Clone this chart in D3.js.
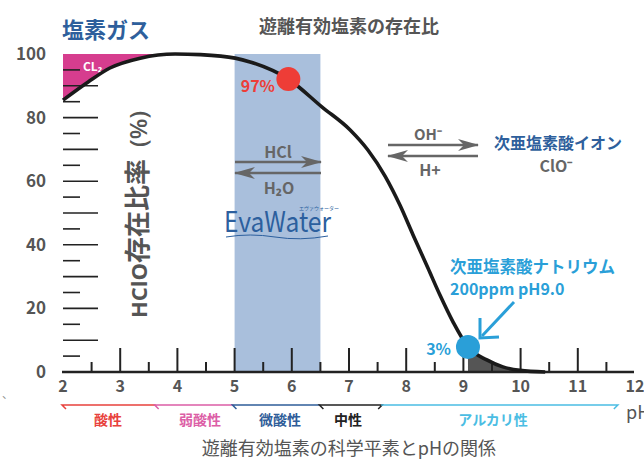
<!DOCTYPE html>
<html><head><meta charset="utf-8">
<script src="https://cdn.jsdelivr.net/npm/d3@7"></script>
<style>
html,body{margin:0;padding:0;background:#fff;}
svg{display:block;}
text{font-family:"Noto Sans CJK JP","Open Sans",sans-serif;}
</style></head>
<body><svg id="c" width="644" height="459"></svg>
<script>
// ---- data ----
const phValues   = [2.0, 2.44, 2.82, 3.35, 3.96, 4.4, 5.01, 5.27, 5.94, 6.53, 7.02, 7.33, 7.63, 7.89, 8.12, 8.38, 8.59, 8.82, 9.08, 9.41, 9.69, 9.99, 10.43];
const hcloValues = [85.5, 91.2, 95.6, 98.7, 100, 99.8, 98.7, 97.5, 92.1, 83.3, 76.1, 69.8, 61.6, 52.5, 43.1, 32.7, 24.2, 15.7, 7.9, 3.8, 1.6, 0.5, 0.0];
const xTicks = [2,3,4,5,6,7,8,9,10,11,12];
const yTickLabels = [0,20,40,60,80,100];
const yGridMajor = [10,20,30,40,50,60,70,80,90];
const yGridMinor = [5,15,25,35,45,55,65,75,85,95];
const bandRange = [5, 6.5];       // 微酸性 band
const cl2Range = [2, 3.96];
const darkRange = [9, 10.43];
const markers = [{ph:5.94, v:92.1, label:"97%", color:"#ee3d37"},{ph:9.08, v:7.9, label:"3%", color:"#2a9fd8"}];
const ranges = [
  {name:"酸性", from:2, to:3.62, color:"#e8413c", lx:108, hookL:true, hookR:false},
  {name:"弱酸性", from:3.62, to:4.98, color:"#dc5ea6", lx:200, hookL:true, hookR:false},
  {name:"微酸性", from:4.98, to:6.5, color:"#2f5d99", lx:280, hookL:true, hookR:false},
  {name:"中性", from:6.5, to:7.58, color:"#222222", lx:348, hookL:true, hookR:true},
  {name:"アルカリ性", from:7.58, to:11.7, color:"#4bbde3", lx:493, hookL:false, hookR:true}
];

const svg = d3.select("#c");
const x = d3.scaleLinear().domain([2,12]).range([63,635]);
const y = d3.scaleLinear().domain([0,100]).range([372,54]);
const pts = phValues.map((p,i)=>({ph:p, v:hcloValues[i]}));
const curveFn = d3.curveMonotoneX;
const gray = "#555";

// blue band
svg.append("rect").attr("x",x(bandRange[0])).attr("y",y(100))
  .attr("width",x(bandRange[1])-x(bandRange[0])).attr("height",y(0)-y(100))
  .attr("fill","#a9bfdc");

const lineGen = d3.line().x(d=>x(d.ph)).y(d=>y(d.v)).curve(curveFn);

// CL2 area
const cl2Pts = pts.filter(d=>d.ph<=cl2Range[1]);
svg.append("path")
  .attr("d", d3.area().x(d=>x(d.ph)).y0(y(100)).y1(d=>y(d.v)).curve(curveFn)(cl2Pts))
  .attr("fill","#d63d8e");
svg.append("text").attr("x",83).attr("y",71).attr("fill","#fff")
  .attr("font-size",12).attr("font-weight",700).attr("font-family","Open Sans")
  .text("CL₂");

// dark fill
const darkPts = pts.filter(d=>d.ph>=darkRange[0]);
svg.append("path")
  .attr("d", d3.area().x(d=>x(d.ph)).y0(y(0)).y1(d=>y(d.v)).curve(curveFn)(darkPts))
  .attr("fill","#555");

// y grid ticks
svg.selectAll("line.gmaj").data(yGridMajor).join("line")
  .attr("x1",63).attr("x2",98).attr("y1",d=>y(d)).attr("y2",d=>y(d))
  .attr("stroke","#222").attr("stroke-width",1.6);
svg.selectAll("line.gmin").data(yGridMinor).join("line")
  .attr("x1",63).attr("x2",80).attr("y1",d=>y(d)).attr("y2",d=>y(d))
  .attr("stroke","#222").attr("stroke-width",1.6);
svg.selectAll("text.yl").data(yTickLabels).join("text")
  .attr("x",46).attr("y",d=>y(d)+6).attr("text-anchor","end")
  .attr("fill",gray).attr("font-size",17).attr("font-weight",700).attr("font-family","Open Sans")
  .text(d=>d);

// x axis
svg.append("line").attr("x1",62).attr("x2",634).attr("y1",y(0)).attr("y2",y(0))
  .attr("stroke","#222").attr("stroke-width",2.5);
const halfTicks = d3.range(5,24).map(d=>d/2);
svg.selectAll("line.xt").data(halfTicks).join("line")
  .attr("x1",d=>x(d)).attr("x2",d=>x(d)).attr("y1",y(0))
  .attr("y2",d=>Number.isInteger(d)? y(0)-24 : y(0)-10)
  .attr("stroke","#222").attr("stroke-width",2);
svg.selectAll("text.xl").data(xTicks).join("text")
  .attr("x",d=>x(d)).attr("y",392).attr("text-anchor","middle")
  .attr("fill",gray).attr("font-size",16).attr("font-weight",600).attr("font-family","Open Sans")
  .text(d=>d);
svg.append("text").attr("x",626).attr("y",419).attr("fill",gray)
  .attr("font-size",18).attr("font-family","Open Sans").text("pH");

// curve
svg.append("path").attr("d",lineGen(pts)).attr("fill","none")
  .attr("stroke","#1a1a1a").attr("stroke-width",3.6);

// markers
svg.selectAll("circle.m").data(markers).join("circle")
  .attr("cx",d=>x(d.ph)).attr("cy",d=>y(d.v)).attr("r",12).attr("fill",d=>d.color);
svg.append("text").attr("x",275).attr("y",92).attr("text-anchor","end")
  .attr("fill",markers[0].color).attr("font-size",16).attr("font-weight",700).attr("font-family","Open Sans")
  .text(markers[0].label);
svg.append("text").attr("x",451).attr("y",355).attr("text-anchor","end")
  .attr("fill",markers[1].color).attr("font-size",16).attr("font-weight",600).attr("font-family","Open Sans")
  .text(markers[1].label);

// arrows helper
function arrow(x1,x2,yy,dir,color){
  svg.append("line").attr("x1",x1).attr("x2",x2).attr("y1",yy).attr("y2",yy)
    .attr("stroke",color).attr("stroke-width",2.6);
  const tip = dir>0? x2 : x1;
  const back = tip - dir*20;
  svg.append("path")
    .attr("d",`M${tip+dir*1},${yy} L${back},${yy-6} L${back+dir*6},${yy} L${back},${yy+6} Z`)
    .attr("fill",color);
}
arrow(235,321,162,1,"#666");
arrow(235,321,173,-1,"#666");
arrow(388,478,145,1,"#666");
arrow(388,478,156,-1,"#666");

const lab = (t,xx,yy,sz,col,wt,anchor,fam)=>svg.append("text").attr("x",xx).attr("y",yy)
  .attr("font-size",sz).attr("fill",col).attr("font-weight",wt||700)
  .attr("text-anchor",anchor||"middle").attr("font-family",fam||null).text(t);

lab("HCl",278,158,16,"#666",700,"middle","Open Sans");
lab("H₂O",279,194,16,"#666",700,"middle","Open Sans");
lab("OH⁻",428,140,15,"#666",700,"middle","Open Sans");
lab("H+",430,176,16,"#666",700,"middle","Open Sans");
lab("次亜塩素酸イオン",558,149,16,"#2e5f9c",700);
lab("ClO⁻",556,172,16,"#666",700,"middle","Open Sans");

// titles
lab("塩素ガス",62,38,22,"#2e5f9c",700,"start");
lab("遊離有効塩素の存在比",349,33,18,gray,700);
lab("遊離有効塩素の科学平素とpHの関係",349,455,18,gray,400);
lab("次亜塩素酸ナトリウム",450,273,16.5,"#2a9fd8",700,"start");
lab("200ppm pH9.0",450,295,16,"#2a9fd8",700,"start","Open Sans");

// pointer arrow
svg.append("path").attr("d","M514,302 L482,336").attr("stroke","#2a9fd8").attr("stroke-width",3).attr("fill","none");
svg.append("path").attr("d","M480,318 L480,338 L499,337").attr("stroke","#2a9fd8").attr("stroke-width",3).attr("fill","none");

// vertical y label
const yl = svg.append("text").attr("transform","translate(147,318) rotate(-90)")
  .attr("text-anchor","start").attr("font-weight",700).attr("fill",gray);
yl.append("tspan").attr("font-size",22).attr("font-family","Open Sans").text("HClO");
yl.append("tspan").attr("font-size",26).text("存在比率");
yl.append("tspan").attr("font-size",24).attr("dx",12).attr("font-family","Open Sans").attr("font-weight",600).text("(%)");

// EvaWater logo
svg.append("text").attr("x",224).attr("y",232).attr("font-family","Lato").attr("font-size",28)
  .attr("fill","#2c5f9e").attr("textLength",107).attr("lengthAdjust","spacingAndGlyphs").text("EvaWater");
svg.append("text").attr("x",299).attr("y",210).attr("font-size",5).attr("fill","#2c5f9e").text("エヴァウォーター");
svg.append("path").attr("d","M226,237 Q250,233 275,237 T328,236").attr("fill","none")
  .attr("stroke","#2c5f9e").attr("stroke-width",1);

// bottom ranges
ranges.forEach(r=>{
  const a=x(r.from)-1, b=x(r.to);
  let d = r.hookL ? `M${a+4},409 L${a},405` : `M${a},405`;
  d += ` L${b},405`;
  if (r.hookR) d += ` L${b-4},409`;
  svg.append("path").attr("d",d)
    .attr("fill","none").attr("stroke",r.color).attr("stroke-width",1.5);
  lab(r.name,r.lx,425,14,r.color,700);
});
lab("、",2,398,11,"#888",400,"start");
</script></body></html>
